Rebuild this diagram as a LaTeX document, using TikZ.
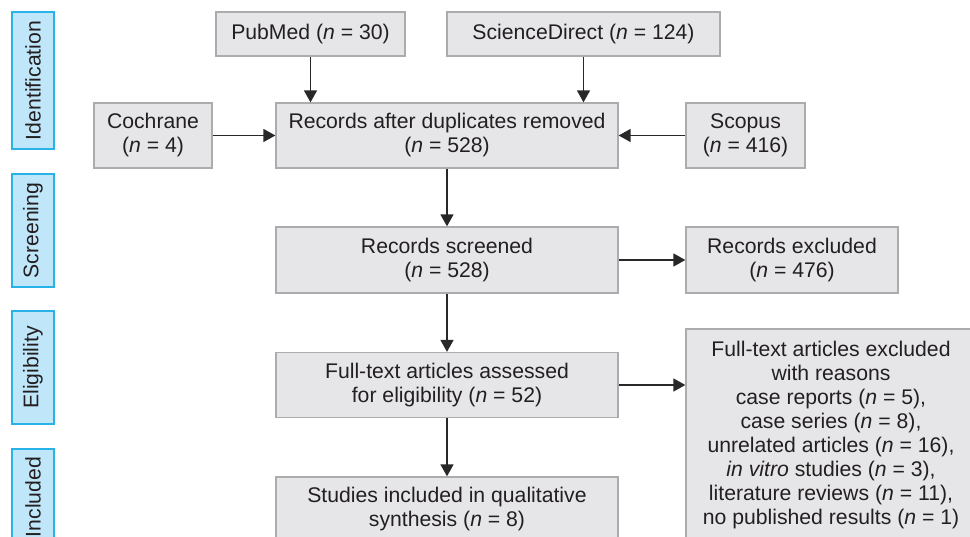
\documentclass[tikz,border=0pt]{standalone}
\usepackage{fontspec}
\setmainfont{Liberation Sans}
\usetikzlibrary{arrows.meta}
\definecolor{boxfill}{RGB}{230,230,232}
\definecolor{boxborder}{RGB}{172,172,174}
\definecolor{sidefill}{RGB}{192,230,250}
\definecolor{sideborder}{RGB}{40,178,232}
\definecolor{txt}{RGB}{35,31,32}
\definecolor{arrowcol}{RGB}{40,40,40}
\newcommand{\diagfont}{\fontsize{21.2}{24}\selectfont}
\tikzset{
  flowbox/.style={draw=boxborder, fill=boxfill, line width=1.3pt, align=center,
    inner sep=0pt, text=txt, font=\diagfont},
  sidebox/.style={draw=sideborder, fill=sidefill, line width=1.6pt, rotate=90,
    inner sep=0pt, text=txt, font=\diagfont, minimum height=42pt},
  arr/.style={draw=arrowcol, line width=1.5pt, -{Triangle[length=12pt,width=13pt]}}
}
\begin{document}
\begin{tikzpicture}[x=1pt,y=-1pt]
\useasboundingbox (0,0) rectangle (970,537);
\clip (0,0) rectangle (970,537);
% side labels
\node[sidebox, minimum width=137pt] (sid) at (33,80.5) {Identification};
\node[sidebox, minimum width=113pt] (ssc) at (33,230.5) {Screening};
\node[sidebox, minimum width=113pt] (sel) at (33,367.5) {Eligibility};
\node[sidebox, minimum width=96pt] (sin) at (33,497) {Included};
% boxes
\node[flowbox, minimum width=189pt, minimum height=44pt] (pubmed) at (310.5,34) {PubMed (\textit{n} = 30)};
\node[flowbox, minimum width=273pt, minimum height=44pt] (sd) at (583.5,34) {ScienceDirect (\textit{n} = 124)};
\node[flowbox, minimum width=118pt, minimum height=65pt] (cochrane) at (153,135.5) {Cochrane\\(\textit{n} = 4)};
\node[flowbox, minimum width=342pt, minimum height=65pt] (dup) at (447,135.5) {Records after duplicates removed\\(\textit{n} = 528)};
\node[flowbox, minimum width=119pt, minimum height=65pt] (scopus) at (745.5,135.5) {Scopus\\(\textit{n} = 416)};
\node[flowbox, minimum width=342pt, minimum height=66pt] (screened) at (447,260) {Records screened\\(\textit{n} = 528)};
\node[flowbox, minimum width=212pt, minimum height=66pt] (excl1) at (792,260) {Records excluded\\(\textit{n} = 476)};
\node[flowbox, minimum width=342pt, minimum height=65pt] (full) at (447,385) {Full-text articles assessed\\for eligibility (\textit{n} = 52)};
\node[flowbox, minimum width=290pt, minimum height=212pt] (excl2) at (831,435) {Full-text articles excluded\\with reasons\\case reports (\textit{n} = 5),\\case series (\textit{n} = 8),\\unrelated articles (\textit{n} = 16),\\\textit{in vitro} studies (\textit{n} = 3),\\literature reviews (\textit{n} = 11),\\no published results (\textit{n} = 1)};
\node[flowbox, minimum width=342pt, minimum height=65pt] (incl) at (447,509.5) {Studies included in qualitative\\synthesis (\textit{n} = 8)};
% arrows
\draw[arr] (pubmed) -- (pubmed |- dup.north);
\draw[arr] (sd) -- (sd |- dup.north);
\draw[arr] (cochrane) -- (dup);
\draw[arr] (scopus) -- (dup);
\draw[arr] (dup) -- (screened);
\draw[arr] (screened) -- (excl1);
\draw[arr] (screened) -- (full);
\draw[arr] (full.east) -- (full.east -| excl2.west);
\draw[arr] (full) -- (incl);
\end{tikzpicture}
\end{document}
